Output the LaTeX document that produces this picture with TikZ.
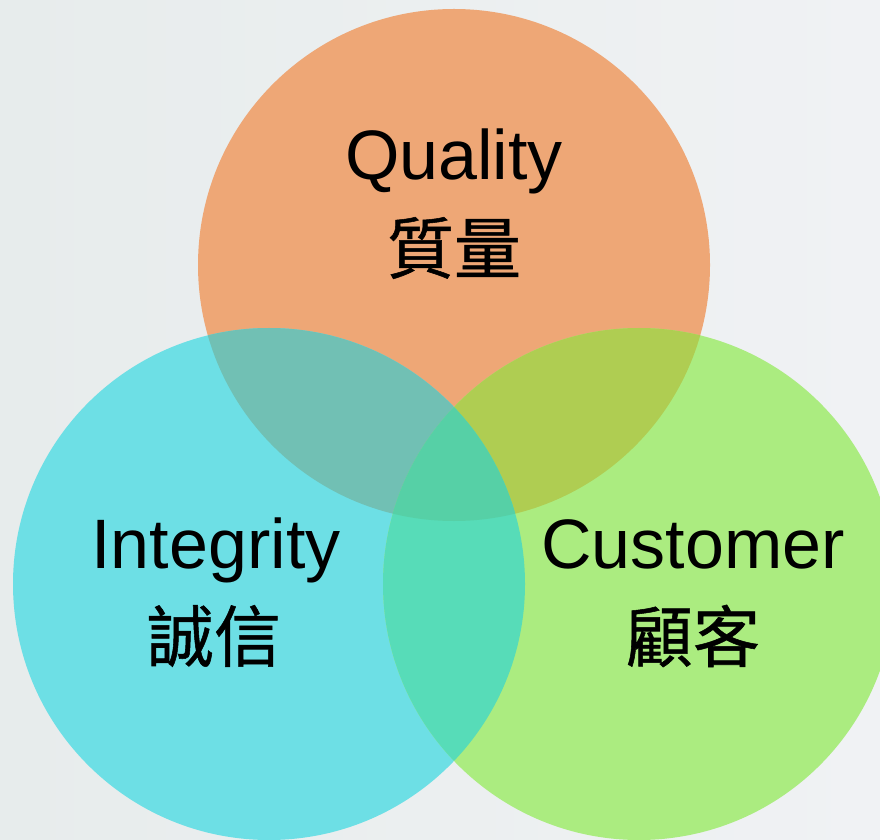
\documentclass[tikz,border=0pt]{standalone}
\usepackage{fontspec}
\setmainfont{Liberation Sans}
\newfontfamily\cjk[FakeBold=0.8]{Noto Sans CJK TC}
\definecolor{bgL}{HTML}{E7ECEC}
\definecolor{bgR}{HTML}{F0F2F4}
\definecolor{cOr}{HTML}{EEA776}
\definecolor{cCy}{HTML}{6DDFE5}
\definecolor{cGr}{HTML}{ABEC80}
\definecolor{cOC}{HTML}{71C0B4}
\definecolor{cOG}{HTML}{AFCD52}
\definecolor{cCG}{HTML}{57DCB8}
\definecolor{cAll}{HTML}{56D0A6}
\tikzset{
  en/.style={font=\fontsize{70}{72}\selectfont, inner sep=0pt, anchor=base},
  zh/.style={font=\cjk\fontsize{67}{70}\selectfont, inner sep=0pt, anchor=center},
}
\begin{document}
\begin{tikzpicture}[x=1pt,y=1pt]
\shade[left color=bgL,right color=bgR] (0,0) rectangle (880,839);
\useasboundingbox (0,0) rectangle (880,839);
\coordinate (T) at (454,574);
\coordinate (L) at (269,255);
\coordinate (R) at (639,255);
\def\rr{256}
\begin{scope}
\clip (0,0) rectangle (880,839);
\fill[cOr] (T) circle (\rr);
\fill[cCy] (L) circle (\rr);
\fill[cGr] (R) circle (\rr);
\begin{scope}\clip (T) circle (\rr); \fill[cOC] (L) circle (\rr); \end{scope}
\begin{scope}\clip (T) circle (\rr); \fill[cOG] (R) circle (\rr); \end{scope}
\begin{scope}\clip (L) circle (\rr); \fill[cCG] (R) circle (\rr); \end{scope}
\begin{scope}\clip (T) circle (\rr); \clip (L) circle (\rr); \fill[cAll] (R) circle (\rr); \end{scope}
\end{scope}
\node[en] (q) at (454,659) {Quality};
\node[zh] (qz) at (454,591) {質量};
\node[en] (i) at (216,271) {Integrity};
\node[zh] (iz) at (214,203) {誠信};
\node[en] (c) at (693,271) {Customer};
\node[zh] (cz) at (693,203) {顧客};
\end{tikzpicture}
\end{document}
